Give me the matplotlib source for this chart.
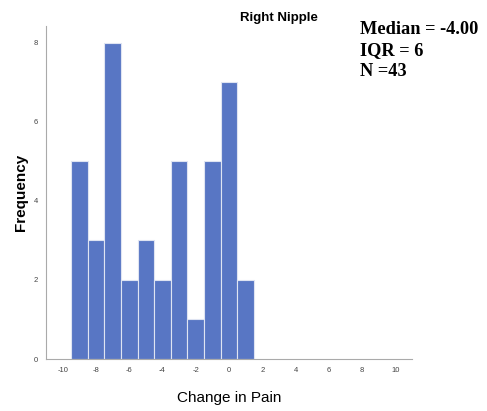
import matplotlib
matplotlib.use("Agg")
import matplotlib.pyplot as plt

bin_centers = [-9, -8, -7, -6, -5, -4, -3, -2, -1, 0, 1]
frequencies = [5, 3, 8, 2, 3, 2, 5, 1, 5, 7, 2]
x_ticks = [-10, -8, -6, -4, -2, 0, 2, 4, 6, 8, 10]
y_ticks = [0, 2, 4, 6, 8]
title = "Right Nipple"
stats_lines = ["Median = -4.00", "IQR = 6", "N =43"]

plt.rcParams['font.family'] = ['Liberation Sans', 'DejaVu Sans']
plt.rcParams['axes.unicode_minus'] = False

fig = plt.figure(figsize=(4.87, 4.11), dpi=100)
ax = fig.add_axes([46/487, 1-359/411, (412-46)/487, (359-26)/411])

ax.bar(bin_centers, frequencies, width=1.0, color='#5876c4', edgecolor='#dfe4f2', linewidth=0.8)

ax.set_xlim(-11.0, 11.0)
ax.set_ylim(0, 8.42)
ax.set_xticks(x_ticks)
ax.set_yticks(y_ticks)
ax.tick_params(axis='both', labelsize=5.5, colors='#444444', length=0, pad=6)
for s in ['top', 'right']:
    ax.spines[s].set_visible(False)
for s in ['left', 'bottom']:
    ax.spines[s].set_color('#aaaaaa')
    ax.spines[s].set_linewidth(0.8)

ax.set_xlabel("Change in Pain", fontsize=11, labelpad=12)
ax.set_ylabel("Frequency", fontsize=11, fontweight='bold', labelpad=4)

fig.text(279/487, 1-18/411, title, ha='center', va='center', fontsize=9.5, fontweight='bold')

for i, line in enumerate(stats_lines):
    fig.text(360/487, 1-(30 + 20.5*i)/411, line, ha='left', va='center',
             fontsize=13.2, fontweight='bold', family='Liberation Serif')

fig.savefig("out.png", dpi=100)
